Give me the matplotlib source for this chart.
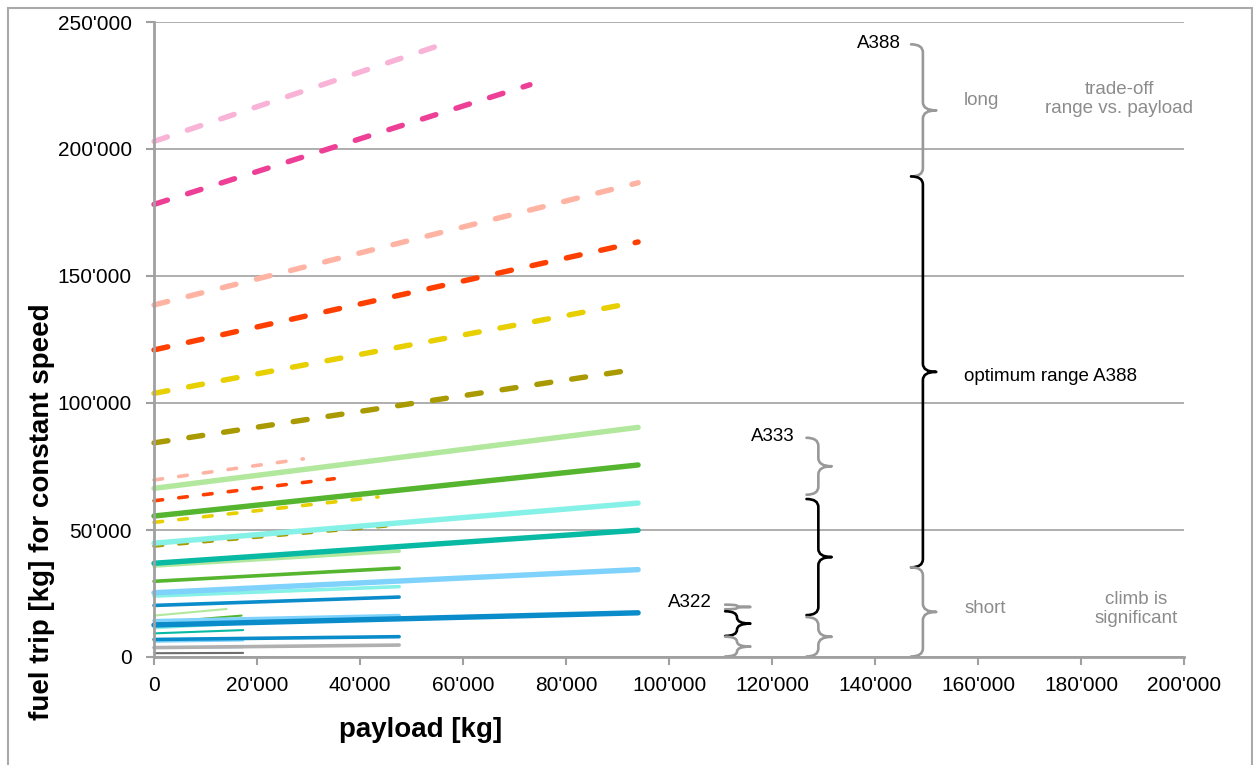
import numpy as np
import matplotlib
matplotlib.use("Agg")
import matplotlib.pyplot as plt
from matplotlib.path import Path
from matplotlib.patches import PathPatch, Rectangle
from matplotlib.ticker import FuncFormatter

plt.rcParams['font.family'] = ['Liberation Sans', 'DejaVu Sans']

# colours used in the chart
c_dgray = '#6e6e6e'
c_gray = '#b0b0b0'
c_blue = '#0a8ccb'
c_lblue = '#7fd2fb'
c_teal = '#08b9a3'
c_aqua = '#86f1e6'
c_green = '#55b52e'
c_lgreen = '#b2e89d'
c_olive = '#a89a00'
c_gold = '#e8cf00'
c_red = '#ff3f00'
c_salmon = '#ffb3a3'
c_hpink = '#ee3f97'
c_pink = '#f9b3d6'

# A388 (thick lines) - fuel [kg] at zero payload and at the end payload
a388_colors = [c_blue, c_lblue, c_teal, c_aqua, c_green, c_lgreen,
               c_olive, c_gold, c_red, c_salmon, c_hpink, c_pink]
a388_dashed = [False] * 6 + [True] * 6
a388_xend = [94000] * 6 + [94000, 94000, 94000, 94000, 73000, 56000]
a388_y0 = [12600, 25300, 36900, 44800, 55500, 66400,
           84300, 103800, 120900, 138600, 178200, 203000]
a388_y1 = [17400, 34400, 49900, 60600, 75600, 90400,
           113400, 139800, 163400, 186700, 225300, 241200]

# A333 (medium lines)
a333_colors = [c_gray, c_blue, c_lblue, c_blue, c_aqua, c_green, c_lgreen,
               c_olive, c_gold, c_red, c_salmon]
a333_dashed = [False] * 7 + [True] * 4
a333_xend = [47600] * 7 + [48000, 43500, 35000, 29000]
a333_y0 = [3700, 6900, 14300, 20300, 24000, 29800, 35800, 43700, 53000, 61500, 69700]
a333_y1 = [4700, 8000, 16300, 23600, 27700, 35000, 41700, 52100, 63000, 70200, 78000]

# A322 (thin lines)
a322_colors = [c_dgray, c_blue, c_lblue, c_teal, c_aqua, c_green, c_lgreen]
a322_xend = [17300, 17300, 17300, 17300, 17300, 17000, 14100]
a322_y0 = [1500, 3800, 6000, 9300, 11300, 13500, 16300]
a322_y1 = [1600, 3900, 6500, 10600, 13100, 16300, 18900]

# braces (spine x, lower y, upper y, colour)
brace_x = [149300, 149300, 149300, 129000, 129000, 129000, 113200, 113200, 113200]
brace_lo = [189200, 35300, 200, 63900, 16500, 200, 18800, 8300, 200]
brace_hi = [241200, 189200, 35300, 86300, 62200, 15700, 20600, 18000, 8000]
brace_col = ['#999999', 'black', '#999999', '#999999', 'black', '#999999',
             '#999999', 'black', '#999999']

W, H = 1253, 765
fig = plt.figure(figsize=(W / 100, H / 100), dpi=100)
ax = fig.add_axes([154 / W, 1 - 657 / H, (1184 - 154) / W, (657 - 22) / H])

ax.set_xlim(0, 200000)
ax.set_ylim(0, 250000)
ax.set_xticks(np.arange(0, 200001, 20000))
ax.set_yticks(np.arange(0, 250001, 50000))
fmt = FuncFormatter(lambda v, p: f"{int(v):,}".replace(",", "'"))
ax.xaxis.set_major_formatter(fmt)
ax.yaxis.set_major_formatter(fmt)
ax.yaxis.grid(True, color='#a8a8a8', lw=1.3)
ax.set_axisbelow(True)
for s in ['top', 'right']:
    ax.spines[s].set_visible(False)
for s in ['left', 'bottom']:
    ax.spines[s].set_color('#a0a0a0')
    ax.spines[s].set_linewidth(2)
ax.tick_params(direction='out', length=6, width=1.5, color='#a0a0a0',
               labelsize=15, labelcolor='black')
ax.tick_params(axis='y', pad=10)
ax.tick_params(axis='x', pad=8)


def draw_lines(colors, xend, y0, y1, dashed, lw, dash):
    for c, xe, a, b, d in zip(colors, xend, y0, y1, dashed):
        ln, = ax.plot([0, xe], [a, b], color=c, lw=lw, solid_capstyle='round',
                      dash_capstyle='round', clip_on=False)
        if d:
            ln.set_dashes(dash)


draw_lines(a322_colors, a322_xend, a322_y0, a322_y1, [False] * 7, 1.5, None)
draw_lines(a333_colors, a333_xend, a333_y0, a333_y1, a333_dashed, 2.6, (2.4, 4.5))
draw_lines(a388_colors, a388_xend, a388_y0, a388_y1, a388_dashed, 3.9, (2.6, 3.9))


def brace(x, lo, hi, color, hook=2300, tip=2600, r=3200):
    r = min(r, (hi - lo) / 4)
    m = (lo + hi) / 2
    verts = [(x - hook, hi), (x, hi), (x, hi - r),
             (x, m + r), (x, m), (x + tip, m),
             (x, m), (x, m - r),
             (x, lo + r), (x, lo), (x - hook, lo)]
    codes = [Path.MOVETO, Path.CURVE3, Path.CURVE3,
             Path.LINETO, Path.CURVE3, Path.CURVE3,
             Path.CURVE3, Path.CURVE3,
             Path.LINETO, Path.CURVE3, Path.CURVE3]
    ax.add_patch(PathPatch(Path(verts, codes), fill=False, edgecolor=color,
                           lw=1.9, capstyle='round', joinstyle='round'))


for bx, lo, hi, col in zip(brace_x, brace_lo, brace_hi, brace_col):
    brace(bx, lo, hi, col)

tg = '#8c8c8c'
fs = 13.5
ax.text(145000, 241500, 'A388', ha='right', va='center', fontsize=fs)
ax.text(124400, 86800, 'A333', ha='right', va='center', fontsize=fs)
ax.text(108400, 21400, 'A322', ha='right', va='center', fontsize=fs)
ax.text(157300, 219000, 'long', ha='left', va='center', fontsize=fs, color=tg)
ax.text(157300, 110500, 'optimum range A388', ha='left', va='center', fontsize=fs)
ax.text(157300, 19000, 'short', ha='left', va='center', fontsize=fs, color=tg)
ax.text(187400, 219500, 'trade-off\nrange vs. payload', ha='center', va='center',
        fontsize=fs, color=tg, linespacing=1.15)
ax.text(190800, 19000, 'climb is\nsignificant', ha='center', va='center',
        fontsize=fs, color=tg, linespacing=1.15)

fig.text(421 / W, 1 - 730 / H, 'payload [kg]', ha='center', va='center',
         fontsize=20, fontweight='bold')
fig.text(42 / W, 1 - 512 / H, 'fuel trip [kg] for constant speed', ha='center',
         va='center', rotation=90, fontsize=20, fontweight='bold')

# outer frame
fig.patches.append(Rectangle((7.5 / W, -0.05), (1251.5 - 7.5) / W, 1.05 - 8 / H,
                             transform=fig.transFigure, fill=False,
                             edgecolor='#aaaaaa', lw=1.5))

fig.savefig('out.png', dpi=100)
